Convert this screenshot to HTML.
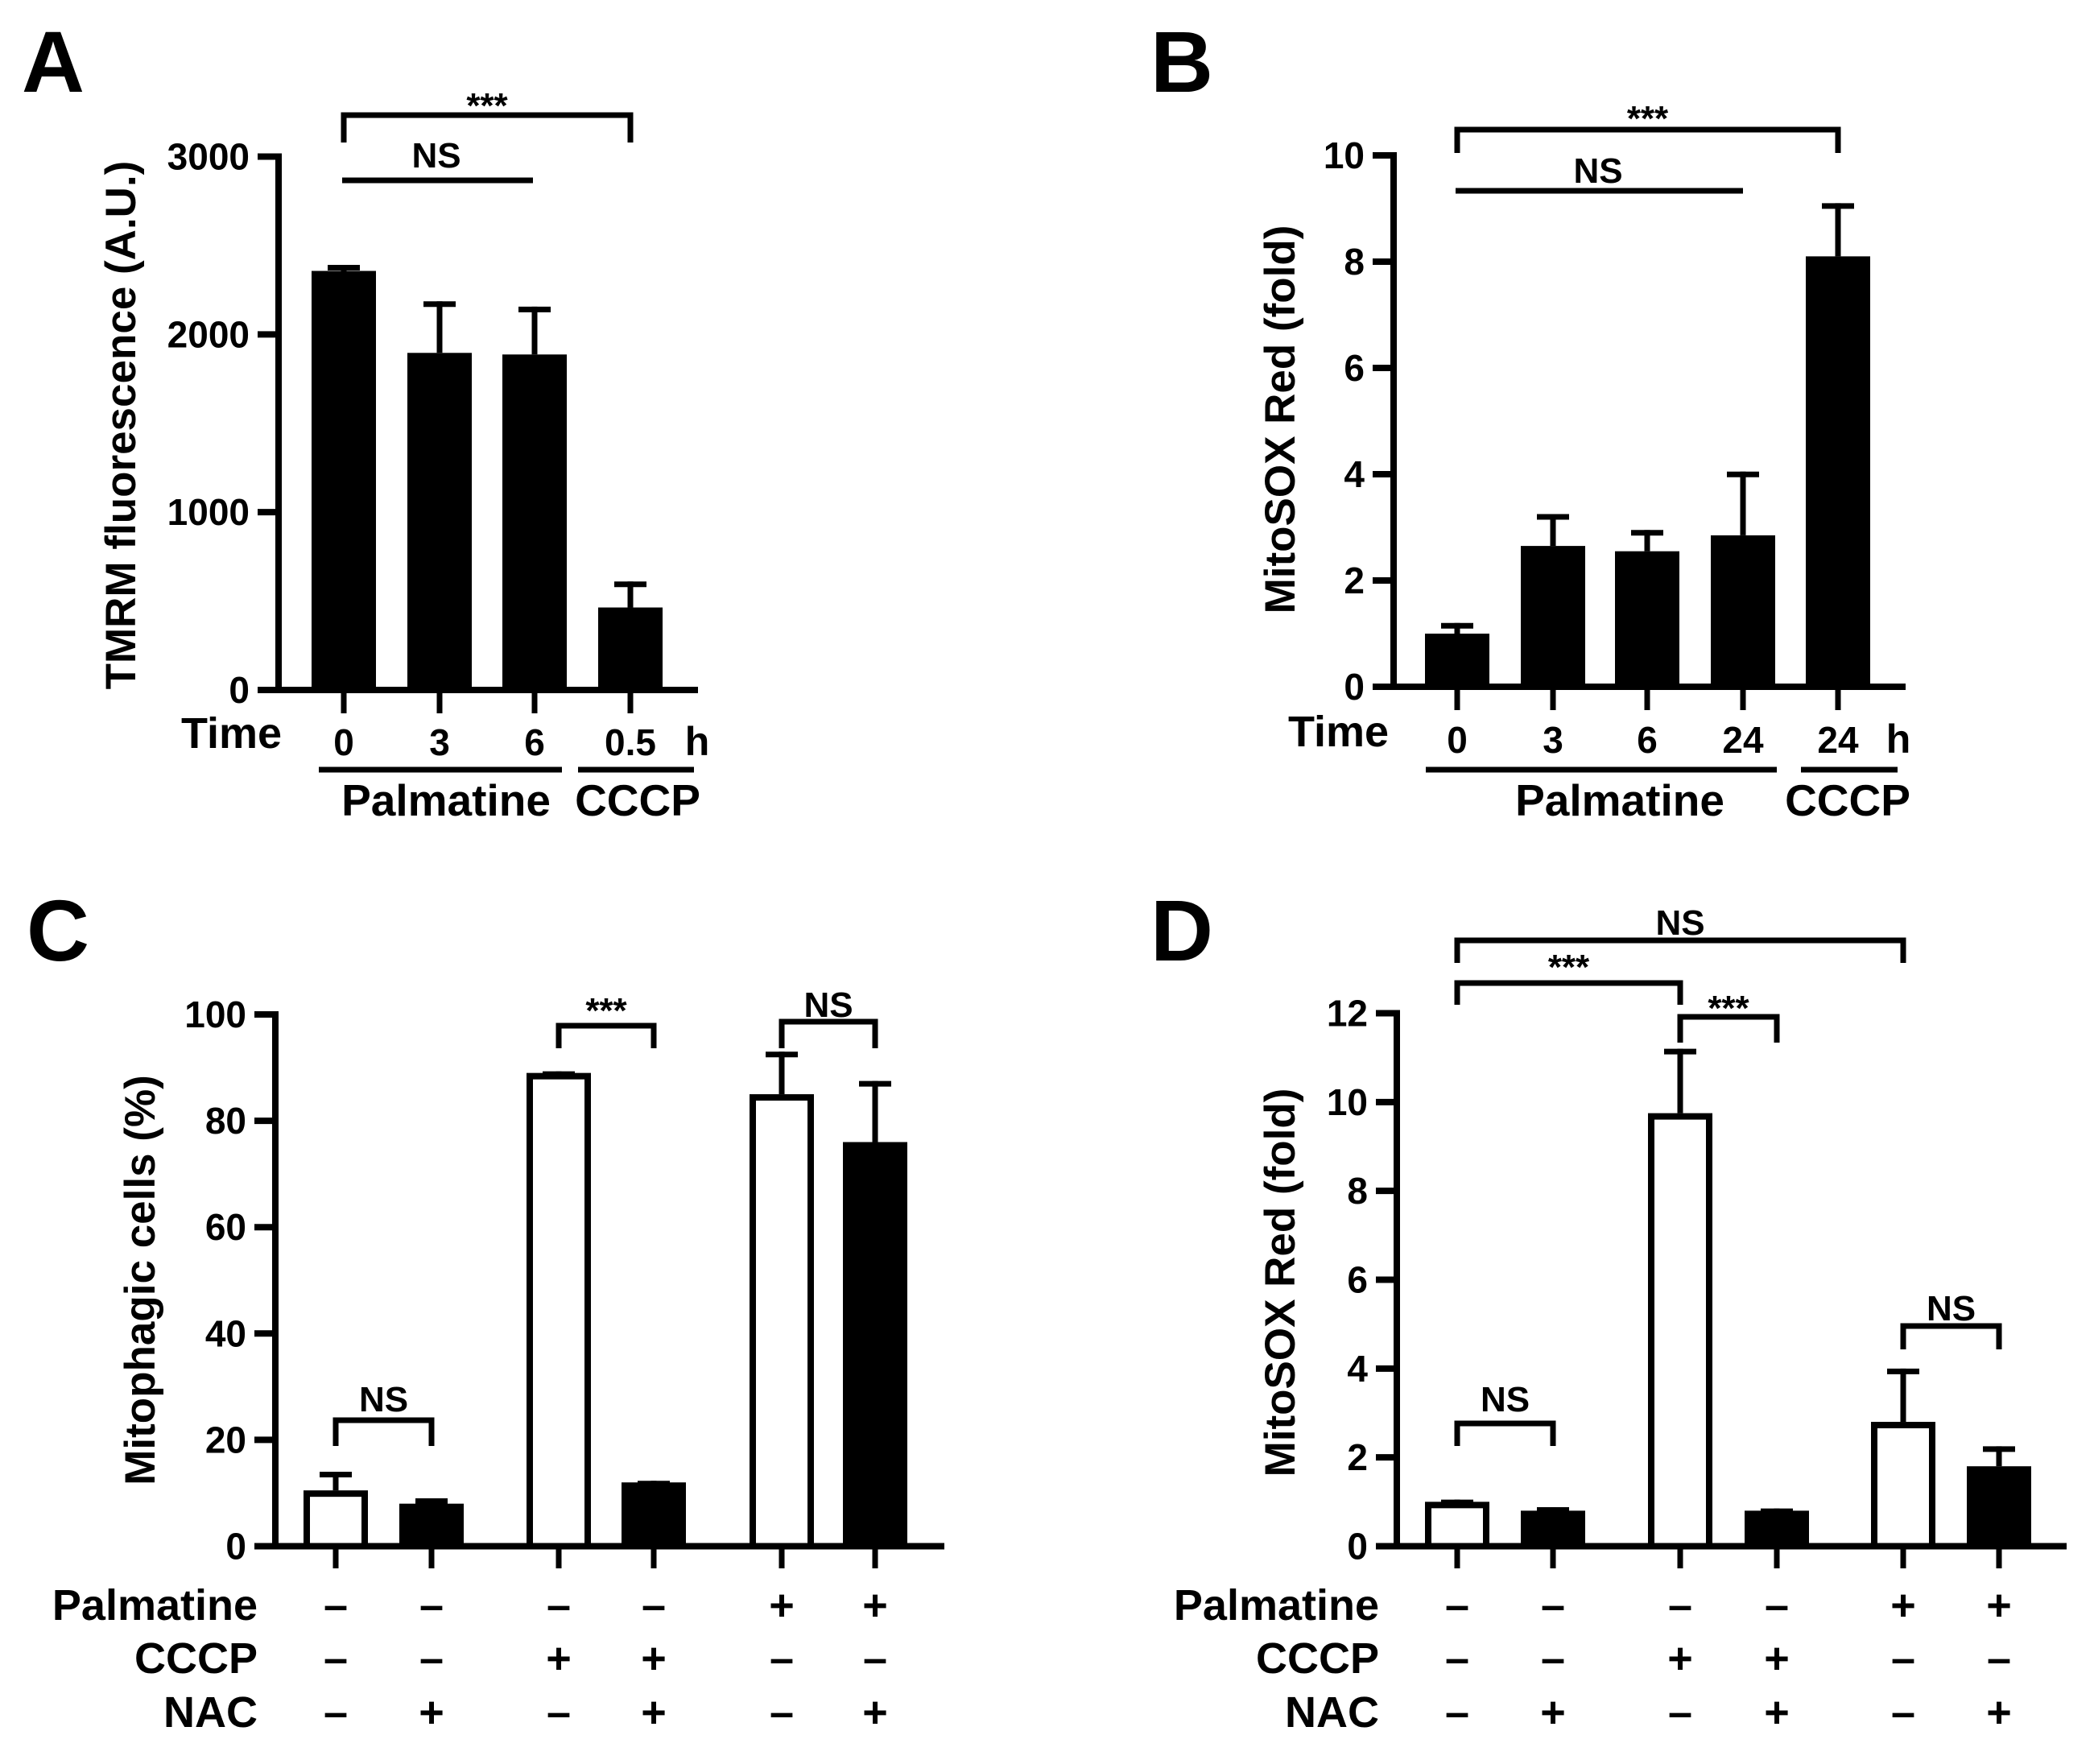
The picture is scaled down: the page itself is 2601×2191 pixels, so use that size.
<!DOCTYPE html>
<html><head><meta charset="utf-8"><style>
html,body{margin:0;padding:0;background:#fff}
svg{display:block}
text{font-family:"Liberation Sans",Arial,sans-serif;font-weight:bold;fill:#000}
</style></head><body>
<svg id="fig" width="2601" height="2191" viewBox="0 0 2601 2191" xmlns="http://www.w3.org/2000/svg"></svg>
<script>
// Panel A data
const aCategories = ["0","3","6","0.5"];
const aValues = [2357, 1896, 1887, 464];
const aErrors = [2391, 2186, 2156, 610];
const aTicks = [0,1000,2000,3000];
// Panel B data
const bCategories = ["0","3","6","24","24"];
const bValues = [1.0, 2.65, 2.55, 2.85, 8.1];
const bErrors = [1.2, 3.25, 2.95, 4.05, 9.1];
const bTicks = [0,2,4,6,8,10];
// Panel C data
const cValues = [10.5, 8, 89, 12, 85, 76];
const cErrors = [14, 9, 89.3, 12.3, 93, 87.5];
const cFilled = [false,true,false,true,false,true];
const cTicks = [0,20,40,60,80,100];
// Panel D data
const dValues = [1.0, 0.8, 9.75, 0.8, 2.8, 1.8];
const dErrors = [1.05, 0.88, 11.2, 0.85, 4.0, 2.25];
const dFilled = [false,true,false,true,false,true];
const dTicks = [0,2,4,6,8,10,12];
// Treatment rows
const rowPalmatine = ["–","–","–","–","+","+"];
const rowCCCP = ["–","–","+","+","–","–"];
const rowNAC = ["–","+","–","+","–","+"];

const NS = "http://www.w3.org/2000/svg";
const svg = document.getElementById('fig');
function mk(tag, attrs, parent){
  const e = document.createElementNS(NS, tag);
  for (const k in attrs) e.setAttribute(k, attrs[k]);
  (parent||svg).appendChild(e);
  return e;
}
function txt(s, x, y, size, anchor, parent){
  const t = mk('text', {x:x, y:y, 'font-size':size, 'text-anchor':anchor||'middle'}, parent);
  t.textContent = s;
  return t;
}

function panel(p){
  const g = mk('g', {});
  
  
  const ys = v => p.y0 - (v - p.min) / (p.max - p.min) * (p.y0 - p.yTop);
  // bars
  p.values.forEach((v,i)=>{
    const cx = p.centers[i];
    const e = p.errors[i];
    const filled = p.filled ? p.filled[i] : true;
    const top = ys(v);
    const el = mk('line', {x1:cx, x2:cx, y1:top, y2:ys(e), stroke:'#000','stroke-width':7}, g);
    
    
    const cap = mk('line', {x1:cx-20, x2:cx+20, y1:ys(e)+3.5, y2:ys(e)+3.5, stroke:'#000','stroke-width':7}, g);
    
    
    let r;
    if (filled) {
      r = mk('rect', {x:cx-40, y:top, width:80, height:p.y0-top, fill:'#000'}, g);
    } else {
      r = mk('rect', {x:cx-36, y:top+4, width:72, height:Math.max(0,p.y0-top-4), fill:'#fff', stroke:'#000','stroke-width':8}, g);
    }
    
    
    // x tick
    const xt = mk('line', {x1:cx, x2:cx, y1:p.y0, y2:p.tickBottom, stroke:'#000','stroke-width':7}, g);
    
    
  });
  // axes
  const ya = mk('line', {x1:p.ax, x2:p.ax, y1:p.yTop-4, y2:p.y0+4, stroke:'#000','stroke-width':8}, g);
  
  
  const xa = mk('line', {x1:p.ax-25, x2:p.xEnd, y1:p.y0, y2:p.y0, stroke:'#000','stroke-width':8}, g);
  
  
  p.ticks.forEach(t=>{
    const y = ys(t);
    const tl = mk('line', {x1:p.ax-26, x2:p.ax, y1:y, y2:y, stroke:'#000','stroke-width':8}, g);
    
    
    const lb = txt(String(t), p.ax-36, y+16, 46, 'end', g);
    
    
  });
  // y title
  const yt = mk('text', {x:0, y:0, 'font-size':53, 'text-anchor':'middle', transform:`translate(${p.ylx},${p.yly}) rotate(-90)`}, g);
  yt.textContent = p.ytitle;
  
  
  // panel letter
  const L = txt(p.letter, p.lx, p.ly, 108, 'start', g);
  
  
  return ys;
}
function bracket(x1, x2, y, yl1, yl2, label, ty, size){
  const d = `M${x1},${yl1} L${x1},${y} L${x2},${y} L${x2},${yl2}`;
  const b = mk('path', {d:d, fill:'none', stroke:'#000','stroke-width':7});
  
  
  const t = txt(label, (x1+x2)/2, ty, size||44);
  
  
}
function label(s, x, y, size, anchor, name){
  const t = txt(s, x, y, size, anchor);
  
  
  return t;
}
function hline(x1,x2,y,name){
  const l = mk('line', {x1:x1,x2:x2,y1:y,y2:y,stroke:'#000','stroke-width':7});
  
  
}

// Panel A
const aCenters = [427,546,664,783];
panel({name:'panel-a', letter:'A', lx:27, ly:114, values:aValues, errors:aErrors, centers:aCenters,
  min:0, max:3000, y0:857, yTop:194.5, ax:346, xEnd:867, tickBottom:886, ticks:aTicks,
  ytitle:'TMRM fluorescence (A.U.)', ylx:168, yly:528});
label('Time', 225, 929, 54, 'start', 'time-label');
aCategories.forEach((c,i)=>{ label(c, aCenters[i], 938, 46, 'middle', 'x-tick-label'); });
label('h', 866, 938, 50, 'middle', 'hours-unit');
hline(396, 698, 956, 'palmatine-underline');
hline(718, 862, 956, 'cccp-underline');
label('Palmatine', 554, 1013, 55, 'middle', 'palmatine-group-label');
label('CCCP', 792, 1013, 55, 'middle', 'cccp-group-label');
bracket(427, 783, 143, 177, 177, '***', 146);
hline(425, 662, 224, 'ns-line');
label('NS', 542, 208, 44, 'middle', 'significance-label');

// Panel B
const bCenters = [1810,1929,2046,2165,2283];
panel({name:'panel-b', letter:'B', lx:1429, ly:114, values:bValues, errors:bErrors, centers:bCenters,
  min:0, max:10, y0:853, yTop:193, ax:1731, xEnd:2367, tickBottom:882, ticks:bTicks,
  ytitle:'MitoSOX Red (fold)', ylx:1608, yly:521});
label('Time', 1600, 927, 54, 'start', 'time-label');
bCategories.forEach((c,i)=>{ label(c, bCenters[i], 935, 46, 'middle', 'x-tick-label'); });
label('h', 2358, 935, 50, 'middle', 'hours-unit');
hline(1771, 2207, 956, 'palmatine-underline');
hline(2237, 2357, 956, 'cccp-underline');
label('Palmatine', 2012, 1013, 55, 'middle', 'palmatine-group-label');
label('CCCP', 2295, 1013, 55, 'middle', 'cccp-group-label');
bracket(1810, 2283, 161, 190, 190, '***', 162);
hline(1808, 2165, 237, 'ns-line');
label('NS', 1985, 227, 44, 'middle', 'significance-label');

// Panel C
const cCenters = [417,536,694,812,971,1087];
panel({name:'panel-c', letter:'C', lx:33, ly:1193, values:cValues, errors:cErrors, filled:cFilled, centers:cCenters,
  min:0, max:100, y0:1920.5, yTop:1260, ax:342, xEnd:1173, tickBottom:1948, ticks:cTicks,
  ytitle:'Mitophagic cells (%)', ylx:192, yly:1590});
bracket(417, 536, 1764, 1796, 1796, 'NS', 1753);
bracket(694, 812, 1274, 1302, 1302, '***', 1270);
bracket(971, 1087, 1269, 1302, 1302, 'NS', 1263);

// Panel D
const dCenters = [1810,1929,2087,2207,2364,2483];
panel({name:'panel-d', letter:'D', lx:1429, ly:1193, values:dValues, errors:dErrors, filled:dFilled, centers:dCenters,
  min:0, max:12, y0:1920.5, yTop:1258.5, ax:1735, xEnd:2567, tickBottom:1948, ticks:dTicks,
  ytitle:'MitoSOX Red (fold)', ylx:1608, yly:1593});
bracket(1810, 2364, 1168, 1196, 1196, 'NS', 1161);
bracket(1810, 2087, 1221, 1248, 1248, '***', 1216);
bracket(2087, 2207, 1263, 1295, 1295, '***', 1267);
bracket(1810, 1929, 1768, 1796, 1796, 'NS', 1753);
bracket(2364, 2483, 1647, 1676, 1676, 'NS', 1640);

// Treatment rows for C and D
function rows(centers, rightEdge){
  const names = ['Palmatine','CCCP','NAC'];
  const rowsArr = [rowPalmatine, rowCCCP, rowNAC];
  const ys = [2012, 2078, 2145];
  names.forEach((n,r)=>{
    label(n, rightEdge, ys[r], 54, 'end', 'row-label-' + n.toLowerCase());
    rowsArr[r].forEach((s,i)=>{
      label(s, centers[i], ys[r], 54, 'middle', 'treatment-sign');
    });
  });
}
rows(cCenters, 320);
rows(dCenters, 1713);
</script>
</body></html>
